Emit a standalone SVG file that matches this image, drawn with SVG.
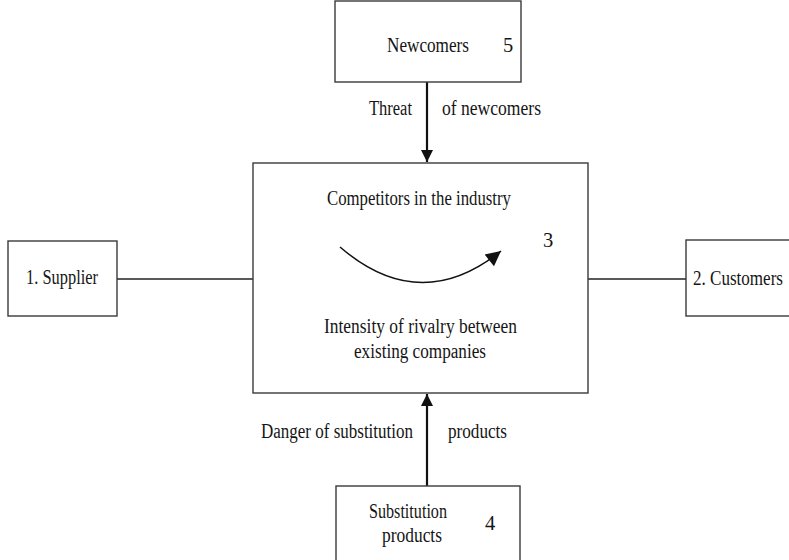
<svg xmlns="http://www.w3.org/2000/svg" width="789" height="560" viewBox="0 0 789 560">
<style>
.box{fill:#fff;stroke:#3a3a3a;stroke-width:1.4}
.t{font-family:"Liberation Serif","Times New Roman",serif;font-size:20.5px;fill:#151515}
.ln{stroke:#222;stroke-width:1.4;fill:none}
.ar{stroke:#111;stroke-width:2.2;fill:none}
</style>
<defs>
<marker id="ah" viewBox="0 0 10 10" refX="10" refY="5" markerWidth="6.5" markerHeight="5.5" markerUnits="strokeWidth" orient="auto">
<path d="M0,0 L10,5 L0,10 z" fill="#111"/>
</marker>
<marker id="ah2" viewBox="0 0 10 10" refX="10" refY="5" markerWidth="12" markerHeight="10" markerUnits="strokeWidth" orient="auto">
<path d="M0,0 L10,5 L0,10 z" fill="#111"/>
</marker>
</defs>
<rect width="789" height="560" fill="#fff"/>
<g id="connectors">
<line class="ar" x1="427" y1="82" x2="427" y2="162" marker-end="url(#ah)"/>
<line class="ar" x1="427" y1="486" x2="427" y2="394" marker-end="url(#ah)"/>
<line class="ln" x1="117" y1="279" x2="253" y2="279"/>
<line class="ln" x1="588" y1="279" x2="686" y2="279"/>
<text class="t" x="369" y="115" textLength="43" lengthAdjust="spacingAndGlyphs">Threat</text>
<text class="t" x="442" y="115" textLength="99" lengthAdjust="spacingAndGlyphs">of newcomers</text>
<text class="t" x="261" y="438" textLength="152" lengthAdjust="spacingAndGlyphs">Danger of substitution</text>
<text class="t" x="448" y="438" textLength="59" lengthAdjust="spacingAndGlyphs">products</text>
</g>
<g id="newcomers">
<rect class="box" x="335" y="1" width="186" height="81"/>
<text class="t" x="387" y="52" textLength="82" lengthAdjust="spacingAndGlyphs">Newcomers</text>
<text class="t" x="503" y="52">5</text>
</g>
<g id="competitors">
<rect class="box" x="253" y="163" width="335" height="230"/>
<text class="t" x="327" y="205" textLength="184" lengthAdjust="spacingAndGlyphs">Competitors in the industry</text>
<path d="M340,247 Q420,316 501,251" stroke="#111" stroke-width="1.5" fill="none" marker-end="url(#ah2)"/>
<text class="t" x="543" y="247">3</text>
<text class="t" x="324" y="333" textLength="193" lengthAdjust="spacingAndGlyphs">Intensity of rivalry between</text>
<text class="t" x="354" y="358" textLength="132" lengthAdjust="spacingAndGlyphs">existing companies</text>
</g>
<g id="supplier">
<rect class="box" x="8" y="241" width="109" height="75"/>
<text class="t" x="26" y="284" textLength="72" lengthAdjust="spacingAndGlyphs">1. Supplier</text>
</g>
<g id="customers">
<rect class="box" x="686" y="240" width="104" height="76"/>
<text class="t" x="693" y="285" textLength="90" lengthAdjust="spacingAndGlyphs">2. Customers</text>
</g>
<g id="substitution">
<rect class="box" x="336" y="486" width="184" height="90"/>
<text class="t" x="369" y="518" textLength="78" lengthAdjust="spacingAndGlyphs">Substitution</text>
<text class="t" x="382" y="542" textLength="60" lengthAdjust="spacingAndGlyphs">products</text>
<text class="t" x="485" y="530">4</text>
</g>
</svg>
